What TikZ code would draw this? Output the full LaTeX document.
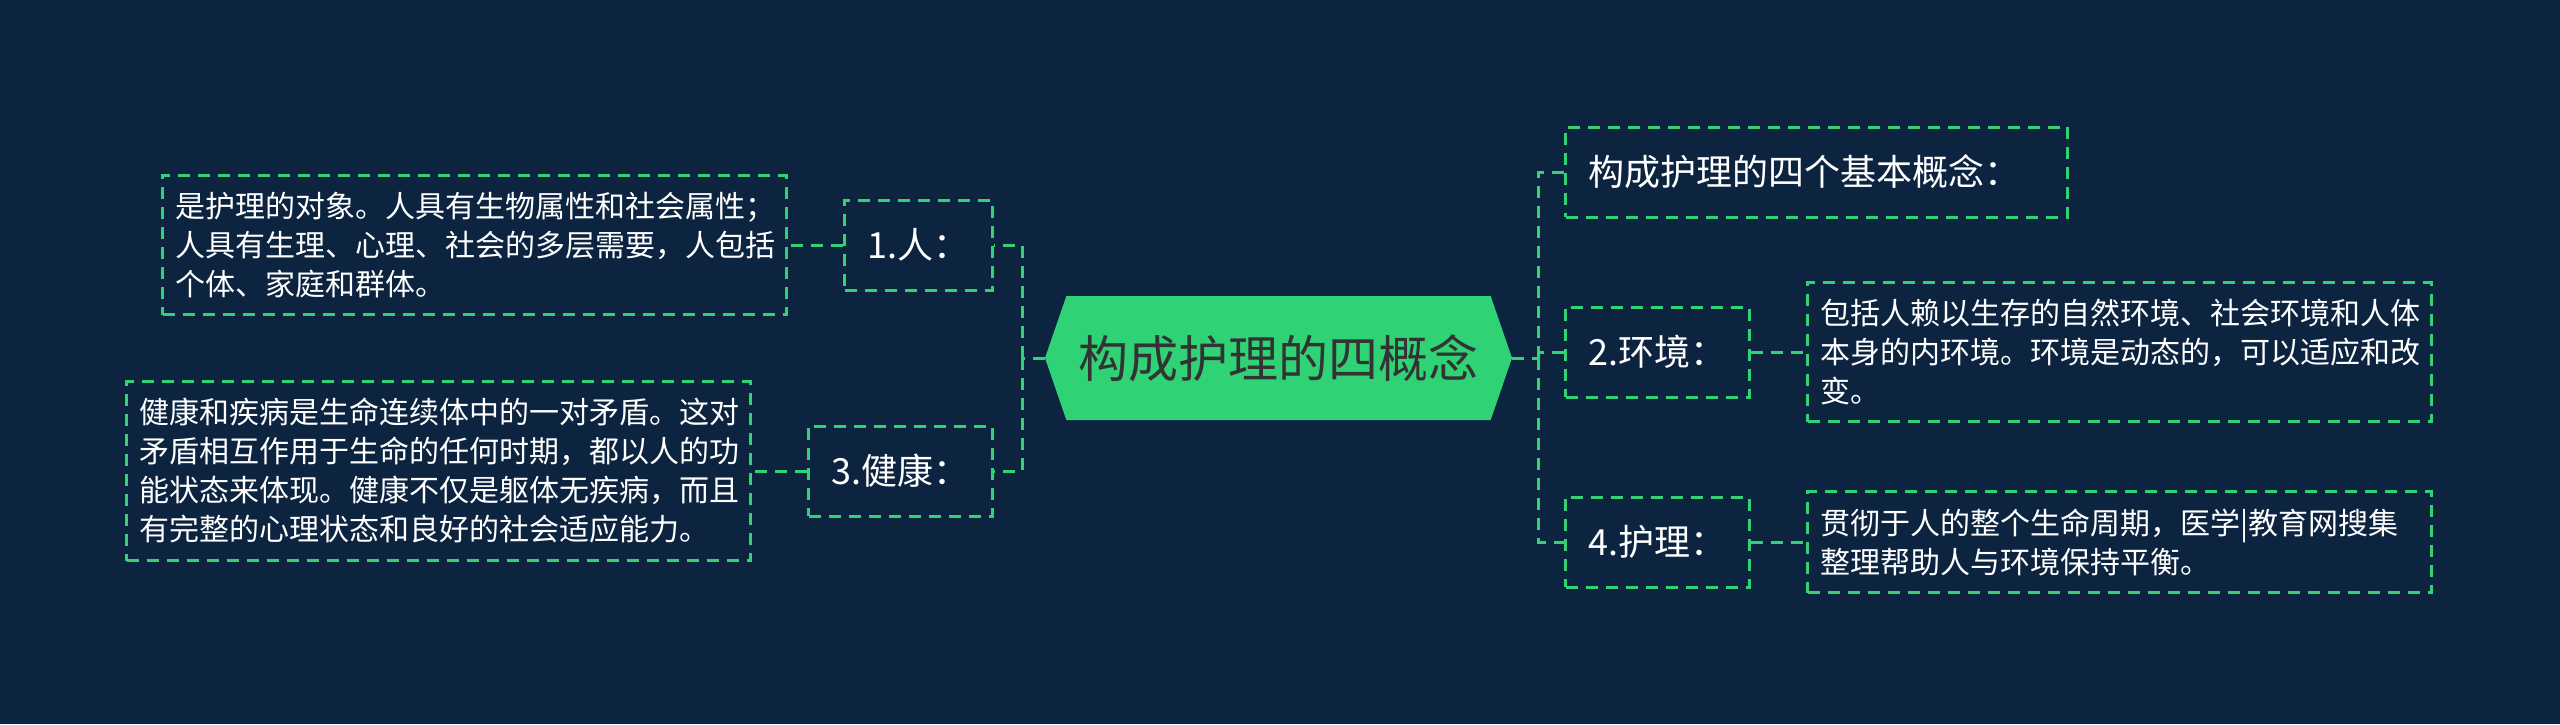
\documentclass[tikz,border=0pt]{standalone}
\usepackage{fontspec}
\setmainfont{Noto Sans CJK SC}
\usetikzlibrary{positioning,shapes.symbols}

\definecolor{bgnavy}{HTML}{0C2440}
\definecolor{mapgreen}{HTML}{2FD274}
\definecolor{rootink}{HTML}{333333}

\begin{document}
\begin{tikzpicture}[node distance = 55pt,
RootStyle/.style={signal, signal to=west and east, signal pointer angle=142,
                fill=mapgreen, text=rootink, minimum width=467pt, minimum height=124pt,
                inner xsep=0pt, font=\fontsize{50pt}{60pt}\selectfont},
BranchStyle/.style={draw=mapgreen, line width=3pt, dash pattern=on 12pt off 8pt,
                text=white, minimum height=90pt, inner xsep=23pt,
                font=\fontsize{36pt}{42pt}\selectfont},
TextStyle/.style={draw=mapgreen, line width=3pt, dash pattern=on 12pt off 8pt,
                text=white, text width=599pt, align=left, inner xsep=12.5pt,
                inner ysep=17pt, font=\fontsize{30pt}{39pt}\selectfont},
LinkStyle/.style={draw=mapgreen, line width=3pt, dash pattern=on 12pt off 8pt},]
\fill[bgnavy] (0pt,0pt) rectangle (2560pt,-724pt);
\useasboundingbox (0pt,0pt) rectangle (2560pt,-724pt);
% centre
\node [RootStyle] (root) at (1278.5pt,-358pt) {构成护理的四概念};
\coordinate (lhub) at (1022pt,-358pt);
\coordinate (rhub) at (1538pt,-358pt);
% left side
\node [BranchStyle, anchor=east] (ren) at (994pt,-245pt) {1.人：};
\node [BranchStyle, anchor=east] (jiankang) at (994pt,-471pt) {3.健康：};
\node [TextStyle, left=of ren] (renText) {是护理的对象。人具有生物属性和社会属性；\\
人具有生理、心理、社会的多层需要，人包括\\个体、家庭和群体。};
\node [TextStyle, left=of jiankang] (jiankangText) {健康和疾病是生命连续体中的一对矛盾。这对\\
矛盾相互作用于生命的任何时期，都以人的功\\能状态来体现。健康不仅是躯体无疾病，而且\\
有完整的心理状态和良好的社会适应能力。};
% right side
\node [BranchStyle, anchor=west, text width=456pt, align=left] (gainian) at (1564pt,-172pt) {构成护理的四个基本概念：};
\node [BranchStyle, anchor=west] (huanjing) at (1564pt,-352pt) {2.环境：};
\node [BranchStyle, anchor=west] (huli) at (1564pt,-542pt) {4.护理：};
\node [TextStyle, right=of huanjing] (huanjingText) {包括人赖以生存的自然环境、社会环境和人体\\
本身的内环境。环境是动态的，可以适应和改\\变。};
\node [TextStyle, right=of huli] (huliText) {贯彻于人的整个生命周期，医学|教育网搜集\\
整理帮助人与环境保持平衡。};
% links
\draw [LinkStyle] (root.west) -- (lhub);
\draw [LinkStyle] (lhub) |- (ren.east);
\draw [LinkStyle] (lhub) |- (jiankang.east);
\draw [LinkStyle] (root.east) -- (rhub);
\draw [LinkStyle] (rhub) |- (gainian.west);
\draw [LinkStyle] (rhub) |- (huanjing.west);
\draw [LinkStyle] (rhub) |- (huli.west);
\draw [LinkStyle] (ren.west) -- (renText.east);
\draw [LinkStyle] (jiankang.west) -- (jiankangText.east);
\draw [LinkStyle] (huanjing.east) -- (huanjingText.west);
\draw [LinkStyle] (huli.east) -- (huliText.west);
\end{tikzpicture}
\end{document}
